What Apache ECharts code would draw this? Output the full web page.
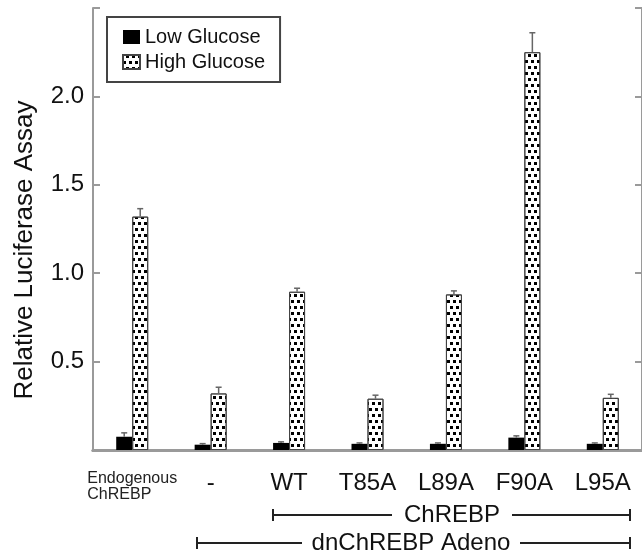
<!DOCTYPE html>
<html>
<head>
<meta charset="utf-8">
<script src="https://cdn.jsdelivr.net/npm/echarts@6/dist/echarts.min.js"></script>
<style>
  html, body { margin: 0; padding: 0; background: #fff; }
  #chart { width: 642px; height: 556px; }
</style>
</head>
<body>
<div id="chart"></div>
<script>
// values
const categories = ['Endogenous\nChREBP', '-', 'WT', 'T85A', 'L89A', 'F90A', 'L95A'];
const lowGlucose = [0.075, 0.03, 0.04, 0.035, 0.035, 0.07, 0.035];
const lowGlucoseErr = [0.022, 0.006, 0.006, 0.005, 0.005, 0.01, 0.005];
const highGlucose = [1.32, 0.32, 0.895, 0.29, 0.88, 2.25, 0.295];
const highGlucoseErr = [0.045, 0.035, 0.02, 0.02, 0.02, 0.11, 0.02];
const yTicks = [0.5, 1.0, 1.5, 2.0];

const font = 'Liberation Sans, Arial, Helvetica, sans-serif';
const frame = '#9a9a9a';

function errorBars(values, errs, side) {
  return {
    type: 'custom',
    silent: true,
    z: 10,
    data: values.map((v, i) => [i, v, errs[i]]),
    renderItem: function (params, api) {
      const i = api.value(0), v = api.value(1), e = api.value(2);
      const base = api.coord([i, v]);
      const top = api.coord([i, v + e]);
      const x = base[0] + side * 8;
      const st = { stroke: '#666', lineWidth: 1.5 };
      return {
        type: 'group',
        children: [
          { type: 'line', shape: { x1: x, y1: base[1], x2: x, y2: top[1] }, style: st },
          { type: 'line', shape: { x1: x - 3, y1: top[1], x2: x + 3, y2: top[1] }, style: st }
        ]
      };
    }
  };
}

const dots = {
  symbol: 'rect',
  symbolSize: 1,
  color: '#000',
  dashArrayX: [[3, 3], [0, 3, 3, 0]],
  dashArrayY: [3, 3],
  rotation: 0
};

const chart = echarts.init(document.getElementById('chart'));
chart.setOption({
  animation: false,
  textStyle: { fontFamily: font, color: '#111' },
  grid: { left: 93, top: 8, right: -4, bottom: 106 },
  legend: {
    data: ['Low Glucose', 'High Glucose'],
    icon: 'rect',
    orient: 'vertical',
    left: 107, top: 17,
    itemWidth: 17, itemHeight: 14, itemGap: 5,
    padding: [10, 15, 10, 15],
    borderColor: '#444', borderWidth: 2,
    textStyle: { fontSize: 20, color: '#111', fontFamily: font }
  },
  xAxis: [{
    type: 'category',
    data: categories,
    axisLine: { lineStyle: { color: frame, width: 3 } },
    axisTick: { show: false },
    axisLabel: {
      margin: 21,
      fontSize: 24,
      color: '#111',
      interval: 0,
      formatter: function (v, i) {
        return i === 0 ? '{s|Endogenous}\n{sl|ChREBP}' : v;
      },
      rich: {
        s: { fontSize: 16, lineHeight: 16, color: '#222', fontFamily: font },
        sl: { fontSize: 16, lineHeight: 16, color: '#222', align: 'left', fontFamily: font }
      }
    }
  }, {
    type: 'category',
    position: 'top',
    data: categories,
    axisLine: { lineStyle: { color: frame, width: 3 } },
    axisTick: { show: false },
    axisLabel: { show: false }
  }],
  yAxis: [{
    type: 'value',
    min: 0, max: 2.5, interval: 0.5,
    splitLine: { show: false },
    axisLine: { show: true, lineStyle: { color: frame, width: 2 } },
    axisTick: { show: true, inside: true, length: 7, lineStyle: { color: frame, width: 2 } },
    axisLabel: {
      fontSize: 24, color: '#111', margin: 9,
      formatter: v => yTicks.indexOf(v) >= 0 ? v.toFixed(1) : ''
    }
  }, {
    type: 'value',
    position: 'right',
    min: 0, max: 2.5, interval: 0.5,
    splitLine: { show: false },
    axisLine: { show: true, lineStyle: { color: frame, width: 2 } },
    axisTick: { show: true, inside: true, length: 7, lineStyle: { color: frame, width: 2 } },
    axisLabel: { show: false }
  }],
  series: [{
    name: 'Low Glucose',
    type: 'bar',
    data: lowGlucose,
    barWidth: 16,
    barGap: '0%',
    itemStyle: { color: '#000' }
  }, {
    name: 'High Glucose',
    type: 'bar',
    data: highGlucose,
    barWidth: 16,
    barGap: '0%',
    itemStyle: { color: '#fff', borderColor: '#444', borderWidth: 1, decal: dots }
  },
  errorBars(lowGlucose, lowGlucoseErr, -1),
  errorBars(highGlucose, highGlucoseErr, 1)],
  graphic: [
    {
      type: 'text', x: 25, y: 250, rotation: Math.PI / 2,
      style: { text: 'Relative Luciferase Assay', fontSize: 26, fontFamily: font, fill: '#111', align: 'center', verticalAlign: 'middle' }
    },
    // ChREBP bracket
    { type: 'line', shape: { x1: 273, y1: 515, x2: 392, y2: 515 }, style: { stroke: '#222', lineWidth: 2 } },
    { type: 'line', shape: { x1: 512, y1: 515, x2: 630, y2: 515 }, style: { stroke: '#222', lineWidth: 2 } },
    { type: 'line', shape: { x1: 273, y1: 509, x2: 273, y2: 521 }, style: { stroke: '#222', lineWidth: 2 } },
    { type: 'line', shape: { x1: 630, y1: 509, x2: 630, y2: 521 }, style: { stroke: '#222', lineWidth: 2 } },
    {
      type: 'text', x: 452, y: 515,
      style: { text: 'ChREBP', fontSize: 24, fontFamily: font, fill: '#111', align: 'center', verticalAlign: 'middle' }
    },
    // dnChREBP Adeno bracket
    { type: 'line', shape: { x1: 197, y1: 543, x2: 302, y2: 543 }, style: { stroke: '#222', lineWidth: 2 } },
    { type: 'line', shape: { x1: 520, y1: 543, x2: 630, y2: 543 }, style: { stroke: '#222', lineWidth: 2 } },
    { type: 'line', shape: { x1: 197, y1: 537, x2: 197, y2: 549 }, style: { stroke: '#222', lineWidth: 2 } },
    { type: 'line', shape: { x1: 630, y1: 537, x2: 630, y2: 549 }, style: { stroke: '#222', lineWidth: 2 } },
    {
      type: 'text', x: 411, y: 543,
      style: { text: 'dnChREBP Adeno', fontSize: 24, fontFamily: font, fill: '#111', align: 'center', verticalAlign: 'middle' }
    }
  ]
});
</script>
</body>
</html>
